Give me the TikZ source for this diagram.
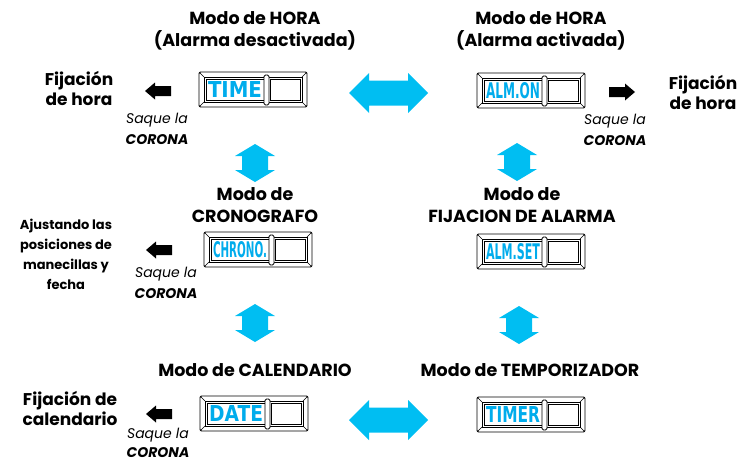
\documentclass[tikz,border=0pt]{standalone}
\usepackage{fontspec}
\setmainfont{Poppins}
\newfontfamily\lcdfont{DejaVu Sans}
\usetikzlibrary{positioning,calc}

\definecolor{lcdblue}{RGB}{0,172,236}
\definecolor{arrowblue}{RGB}{0,190,242}

\tikzset{
  modetitle/.style={font=\bfseries\fontsize{17.5}{22}\selectfont, align=center},
  sidetext/.style={font=\bfseries\fontsize{17}{20}\selectfont, align=center},
  smallside/.style={font=\bfseries\fontsize{13}{20}\selectfont, align=center},
  hint/.style={font=\itshape\fontsize{14}{21}\selectfont, align=center},
  frame/.style={draw=black, line width=0.9pt},
  bevel/.style={draw=black, line width=0.6pt},
  lcd/.style={text=lcdblue, inner sep=0pt},
}

% display panel: name, top left corner, text
\newcommand\lcdpanel[3]{%
  \begin{scope}[shift={#2}]
    \draw[frame, rounded corners=1.5pt] (0,0) rectangle (108,35);
    \draw[bevel] (5,5) rectangle (103,30);
    \draw[bevel] (0,0) -- (5,5) (108,0) -- (103,5) (0,35) -- (5,30) (108,35) -- (103,30);
    \draw[frame] (7,7) rectangle (65,28);
    \draw[frame] (71,7) rectangle (101,28);
    \draw[frame, fill=white, rounded corners=1.5pt] (65,3) rectangle (70,33);
    \node[lcd] (#1) at (36,17.5) {\resizebox{54pt}{16pt}{\lcdfont\bfseries #3}};
  \end{scope}}

% big blue double arrows
\newcommand\hdblarrow[1]{%
  \fill[arrowblue, shift={#1}] (-39.5,0) -- (-19.5,-20) -- (-19.5,-12.5) -- (19.5,-12.5)
    -- (19.5,-20) -- (39.5,0) -- (19.5,20) -- (19.5,12.5) -- (-19.5,12.5) -- (-19.5,20) -- cycle;}
\newcommand\vdblarrow[1]{%
  \fill[arrowblue, shift={#1}] (0,-19) -- (20,-7) -- (13,-7) -- (13,7) -- (20,7)
    -- (0,19) -- (-20,7) -- (-13,7) -- (-13,-7) -- (-20,-7) -- cycle;}
% small black arrow, #2 = 1 right, -1 left
\newcommand\blkarrow[2]{%
  \fill[black, shift={#1}, xscale=#2] (13,0) -- (3,-8.5) -- (3,-5) -- (-13,-5)
    -- (-13,5) -- (3,5) -- (3,8.5) -- cycle;}

\begin{document}
\begin{tikzpicture}[x=1pt, y=-1pt]
  \useasboundingbox (0,0) rectangle (747,463);

  % Pantallas
  \lcdpanel{time}{(199,72)}{TIME}
  \lcdpanel{almon}{(477,73)}{ALM.ON}
  \lcdpanel{chrono}{(204,232)}{CHRONO.}
  \lcdpanel{almset}{(477,234)}{ALM.SET}
  \lcdpanel{date}{(200,396)}{DATE}
  \lcdpanel{timer}{(477,397)}{TIMER}

  % Titulos de modo
  \node[modetitle] (t1) at (255,31) {Modo de HORA\\(Alarma desactivada)};
  \node[modetitle] (t2) at (541,31) {Modo de HORA\\(Alarma activada)};
  \node[modetitle] (t3) at (255,205) {Modo de\\CRONOGRAFO};
  \node[modetitle] (t4) at (522,205) {Modo de\\FIJACION DE ALARMA};
  \node[modetitle] (t5) at (255,370) {Modo de CALENDARIO};
  \node[modetitle] (t6) at (530,370) {Modo de TEMPORIZADOR};

  % Ajustes
  \node[sidetext] (s1) at (79,88) {Fijación\\de hora};
  \node[sidetext] (s2) at (703,92) {Fijación\\de hora};
  \node[smallside] (s3) at (66,254) {Ajustando las\\posiciones de\\manecillas y\\fecha};
  \node[sidetext] (s4) at (70,408) {Fijación de\\calendario};

  \node[hint] (h1) at (157,129) {Saque la\\\textbf{CORONA}};
  \node[hint] (h2) at (615,130) {Saque la\\\textbf{CORONA}};
  \node[hint] (h3) at (166,283) {Saque la\\\textbf{CORONA}};
  \node[hint, font=\itshape\fontsize{14}{19}\selectfont] (h4) at (158,443) {Saque la\\\textbf{CORONA}};

  % Flechas negras
  \blkarrow{(158,91)}{-1}
  \blkarrow{(622,92)}{1}
  \blkarrow{(159,250)}{-1}
  \blkarrow{(159,414)}{-1}

  % Flechas azules
  \hdblarrow{(388.5,93)}
  \hdblarrow{(388.5,420)}
  \vdblarrow{(255,163)}
  \vdblarrow{(517,162)}
  \vdblarrow{(255,323)}
  \vdblarrow{(519,325)}
\end{tikzpicture}
\end{document}
